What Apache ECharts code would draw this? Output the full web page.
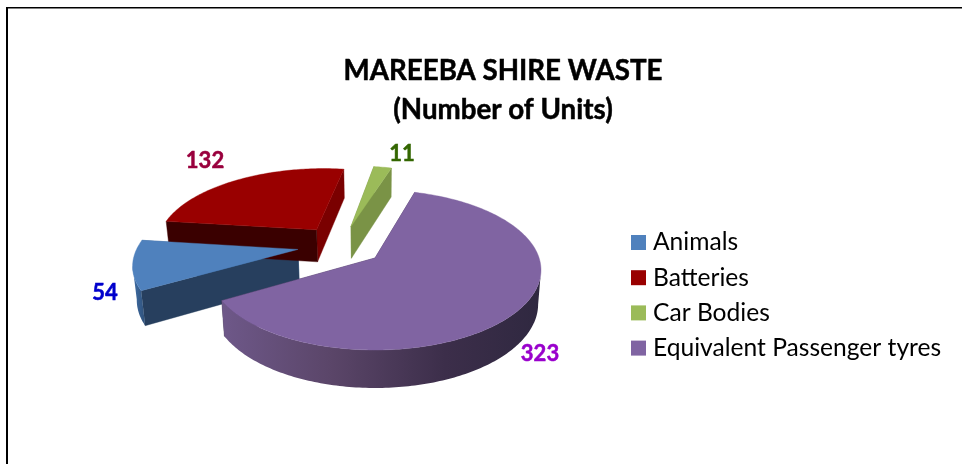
<!DOCTYPE html>
<html>
<head>
<meta charset="utf-8">
<style>html,body{margin:0;padding:0;background:#fff}#c{width:962px;height:464px}</style>
<script src="https://cdn.jsdelivr.net/npm/echarts@6/dist/echarts.min.js"></script>
</head>
<body>
<div id="c"></div>
<script>
var categories = ['Animals', 'Batteries', 'Car Bodies', 'Equivalent Passenger tyres'];
var values = [54, 132, 11, 323];
var titleLines = ['MAREEBA SHIRE WASTE', '(Number of Units)'];

// Look of each slice
var topColors = ['#4f81bd', '#990000', '#9bbb59', '#8064a2'];
var radialColors = ['#273f5e', '#3a0000', '#7a9346', '#3f3150'];
var endWallColors = ['#3f6797', '#7a0000', '#7a9346', '#3f3150'];
var rimStops = [
  [[0, '#3f6ea6'], [1, '#2f5079']],
  [[0, '#7a0000'], [1, '#5a0000']],
  [[0, '#7a9346'], [1, '#6a8040']],
  [[0, '#6e5889'], [0.35, '#5a4568'], [0.7, '#3c2e4a'], [1, '#2f2840']]
];
var labelColors = ['#0000cc', '#99003d', '#336600', '#9900cc'];
var labelPos = [[105, 293], [205, 161], [402, 154], [540, 354]];
var paintOrder = [2, 2, 3, 4];

// Pie geometry: unit disc, tilted by a projective map onto a screen ellipse
var ELL = {cx: 375, cy: 270, a: 166, b: 80};
var K = -0.15, S = Math.sqrt(1 - K * K);
var START = 239.7, EXPLODE = 0.27, VPX = 375, LEAN = 0.0173;
var total = values.reduce(function (s, v) { return s + v; }, 0);
var RAD = Math.PI / 180;

function dir(deg) { return [Math.sin(deg * RAD), -Math.cos(deg * RAD)]; }
function project(x, y) {
  var d = 1 + K * y;
  return [ELL.cx + ELL.a * x * S / d, ELL.cy + ELL.b * (y + K) / d];
}
function drop(p) {
  var depth = 20.5 + 0.05 * p[1];
  return [p[0] + (VPX - p[0]) * LEAN, p[1] + depth];
}
function sliceAngles(i) {
  var a = START;
  for (var j = 0; j < i; j++) a += values[j] / total * 360;
  return [a, a + values[i] / total * 360];
}
var purpleMid = (function () { var r = sliceAngles(3); return (r[0] + r[1]) / 2; })();
var CENTER = (function () { var d = dir(purpleMid); return [-EXPLODE * d[0], -EXPLODE * d[1]]; })();

function poly(points, fill, z2) {
  return {type: 'polygon', shape: {points: points}, z2: z2,
    style: {fill: fill, stroke: typeof fill === 'string' ? fill : null, lineWidth: 0.4}};
}

function renderSlice(i) {
  return function (params, api) {
    var value = api.value(0);
    var range = sliceAngles(i), a0 = range[0], a1 = a0 + value / total * 360;
    var mid = dir((a0 + a1) / 2);
    var ox = CENTER[0] + EXPLODE * mid[0], oy = CENTER[1] + EXPLODE * mid[1];
    var apex = project(ox, oy);
    var rim = [];
    var steps = Math.max(8, Math.round(a1 - a0));
    for (var s = 0; s <= steps; s++) {
      var d = dir(a0 + (a1 - a0) * s / steps);
      rim.push(project(ox + d[0], oy + d[1]));
    }
    // Outer wall: only the arc that faces the viewer
    var front = [];
    for (var t = 1; t < rim.length; t++) {
      if (rim[t][0] < rim[t - 1][0]) {
        if (!front.length) front.push(rim[t - 1]);
        front.push(rim[t]);
      }
    }
    var kids = [];
    var first = rim[0], last = rim[rim.length - 1];
    // Radial walls: the far one is painted first so the near one hides it
    var firstFar = first[1] < last[1];
    kids.push(poly([apex, first, drop(first), drop(apex)], radialColors[i], firstFar ? 1 : 2));
    kids.push(poly([apex, last, drop(last), drop(apex)], endWallColors[i], firstFar ? 2 : 1));
    if (front.length > 1) {
      var lower = front.map(drop).reverse();
      var grad = {
        type: 'linear', x: 0, y: 0, x2: 1, y2: 0,
        colorStops: rimStops[i].map(function (c) { return {offset: c[0], color: c[1]}; })
      };
      kids.push(poly(front.concat(lower), grad, 3));
    }
    kids.push(poly([apex].concat(rim), topColors[i], 4));
    kids.push({
      type: 'text', z2: 5, x: labelPos[i][0], y: labelPos[i][1],
      style: {text: String(value), fill: labelColors[i], align: 'center', verticalAlign: 'middle',
        font: 'bold 22px Lato', stroke: labelColors[i], lineWidth: 0.5}
    });
    return {type: 'group', children: kids};
  };
}

var chart = echarts.init(document.getElementById('c'), null, {renderer: 'canvas'});
chart.setOption({
  animation: false,
  backgroundColor: '#ffffff',
  title: {
    text: titleLines.join('\n'), left: 498, top: 47, textAlign: 'center',
    textStyle: {fontFamily: 'Lato', fontWeight: 'bold', fontSize: 27.7, lineHeight: 39, color: '#000000',
      textBorderColor: '#000000', textBorderWidth: 0.5}
  },
  legend: {
    orient: 'vertical', left: 626, top: 225, itemWidth: 15, itemHeight: 15, itemGap: 10.2,
    data: categories, selectedMode: false, icon: 'rect',
    textStyle: {fontFamily: 'Lato', fontSize: 24.6, lineHeight: 24, color: '#000000', padding: [0, 0, 0, 2]}
  },
  graphic: [
    {type: 'line', shape: {x1: 7, y1: 7.75, x2: 962, y2: 7.75}, style: {stroke: '#000', lineWidth: 1.5}},
    {type: 'line', shape: {x1: 7, y1: 7, x2: 7, y2: 464}, style: {stroke: '#000', lineWidth: 2}}
  ],
  series: categories.map(function (name, i) {
    return {
      type: 'custom', name: name, coordinateSystem: 'none', z: paintOrder[i],
      itemStyle: {color: topColors[i]},
      data: [[values[i]]],
      renderItem: renderSlice(i)
    };
  })
});
</script>
</body>
</html>
